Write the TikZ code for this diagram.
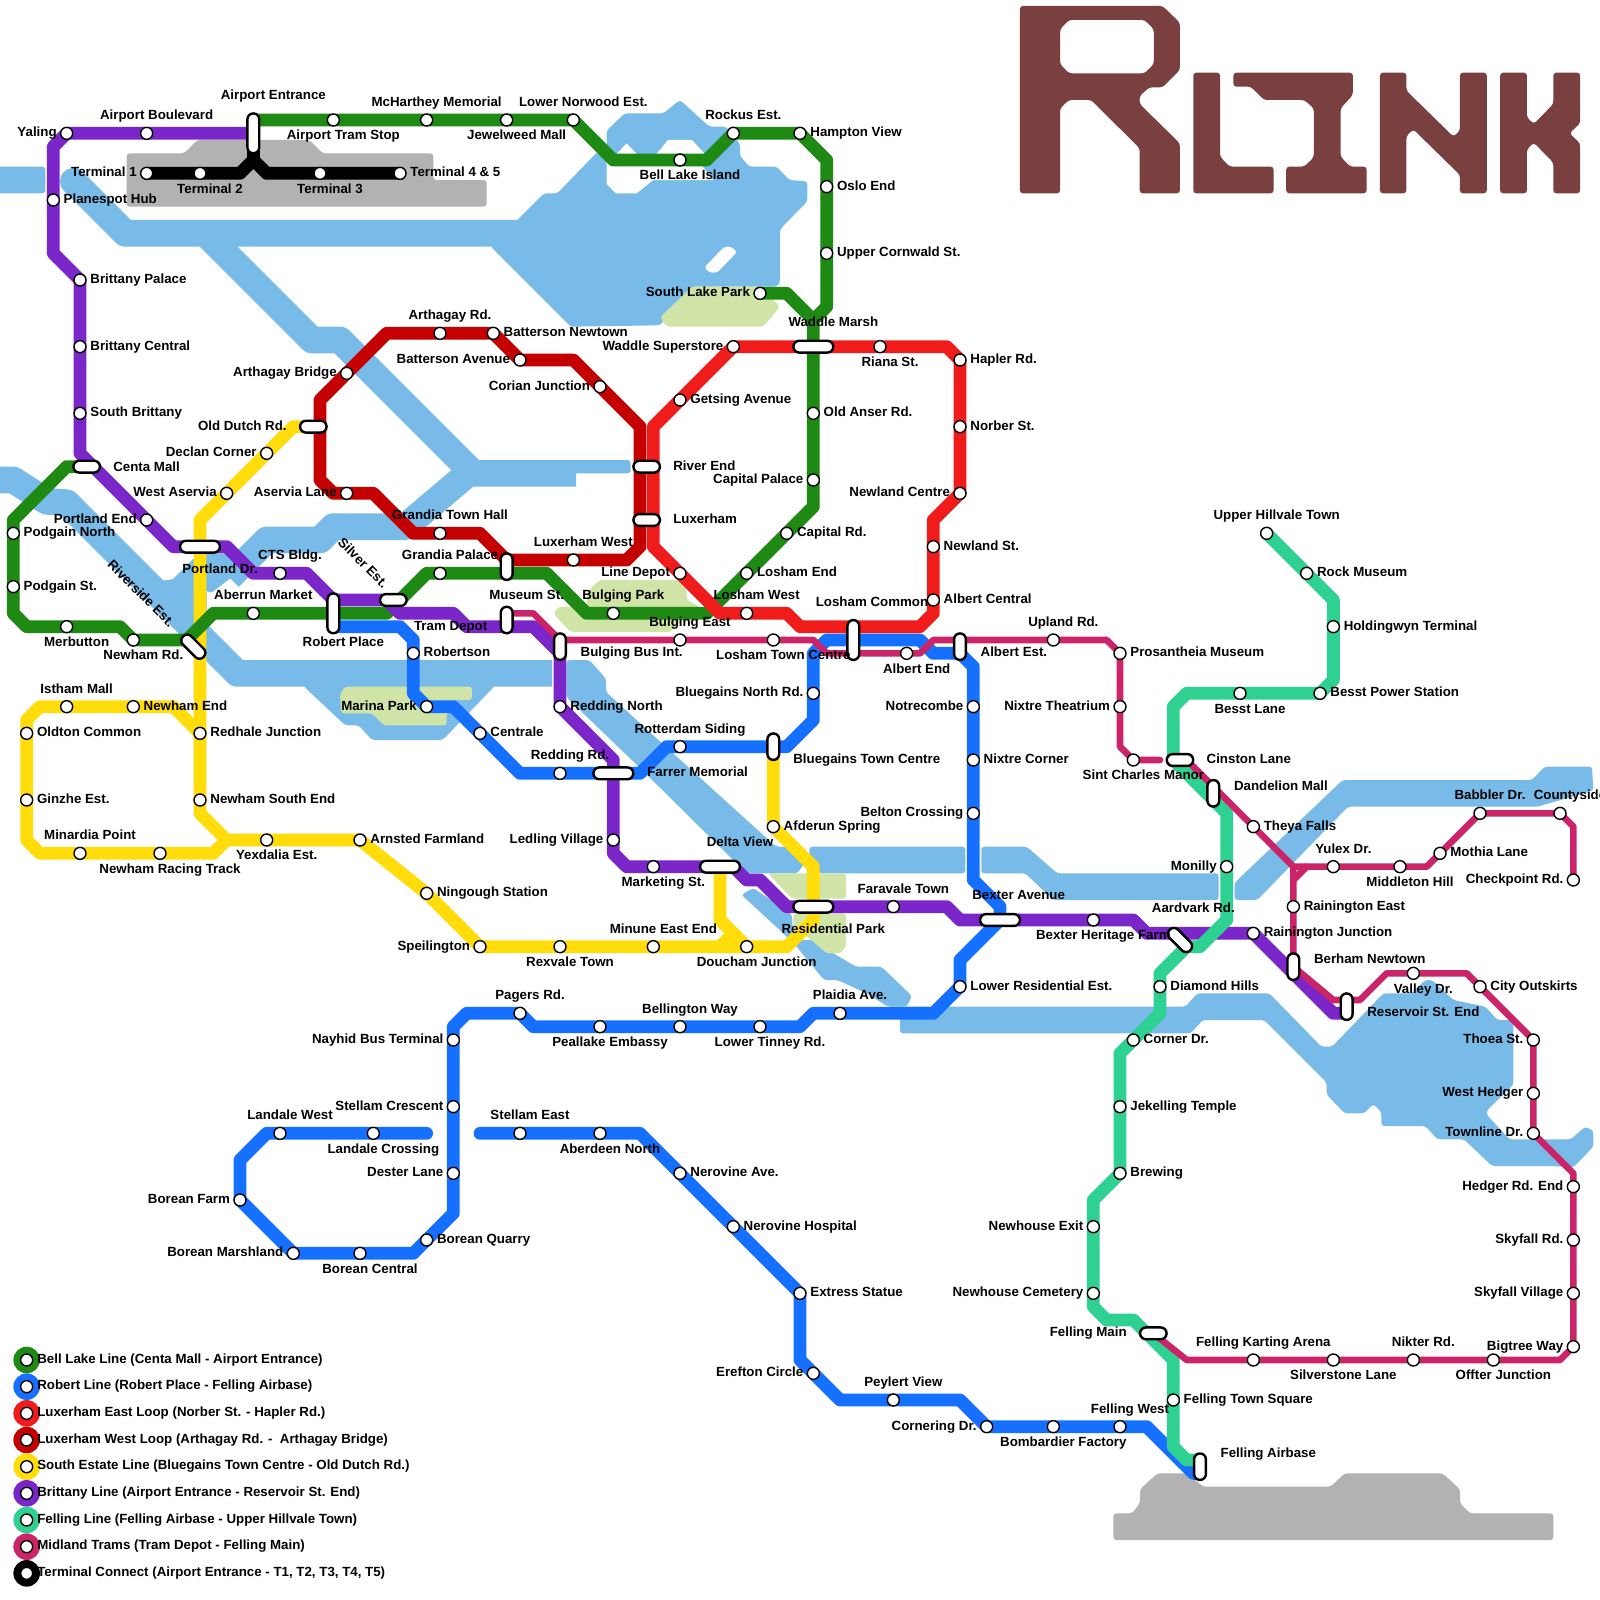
\documentclass[tikz,border=0pt]{standalone}
\usepackage{fontspec}
\setmainfont{Liberation Sans}
\definecolor{cgreen}{HTML}{1E8A14}
\definecolor{cblue}{HTML}{1570FF}
\definecolor{cred}{HTML}{F01C1C}
\definecolor{cdark}{HTML}{C40000}
\definecolor{cyel}{HTML}{FFDC0A}
\definecolor{cpur}{HTML}{7A26C8}
\definecolor{cteal}{HTML}{2ED191}
\definecolor{cmid}{HTML}{CC2468}
\definecolor{cwater}{HTML}{78BBE8}
\definecolor{cpark}{HTML}{D0E4A8}
\definecolor{cgray}{HTML}{B2B2B2}
\definecolor{clogo}{HTML}{7A4040}
\pgfdeclarelayer{lines}
\pgfdeclarelayer{land}
\pgfsetlayers{land,lines,main}
\tikzset{
  stn/.style={circle,draw=black,fill=white,line width=1.4pt,minimum size=12pt,inner sep=0pt,outer sep=0pt},
  lab/.style={font=\fontsize{13.3}{15}\selectfont\bfseries,inner sep=0pt,outer sep=0pt,text height=9.5pt,text depth=0pt,text=black},
  lr/.style={anchor=west,xshift=10.4pt,yshift=1.2pt},
  ll/.style={anchor=east,xshift=-10pt,yshift=1.2pt},
  la/.style={anchor=center,xshift=10pt,yshift=18.4pt},
  lb/.style={anchor=center,xshift=10pt,yshift=-15.2pt},
  lo/.style 2 args={anchor=center,xshift=#1*13.333pt,yshift=-#2*13.333pt},
  lw/.style 2 args={anchor=west,xshift=#1*13.333pt,yshift=-#2*13.333pt},
  lt/.style 2 args={anchor=east,xshift=#1*13.333pt,yshift=-#2*13.333pt},
  ich/.style={draw=black,fill=white,line width=2.4pt,rounded corners=5.8pt,inner sep=0pt,outer sep=0pt,minimum height=11.8pt,minimum width=#1*13.333pt-0.2pt},
  icv/.style={draw=black,fill=white,line width=2.4pt,rounded corners=5.8pt,inner sep=0pt,outer sep=0pt,minimum width=11.8pt,minimum height=#1*13.333pt-0.2pt},
  icd/.style={ich=2.2,rotate=-45},
  bl/.style={line width=12.8pt,line join=round,line cap=round},
  ml/.style={line width=6.6pt,line join=round,line cap=round,cmid},
  wl/.style={line width=26.67pt,line join=round,cwater},
  wp/.style={fill=cwater,rounded corners=3pt},
  pk/.style={fill=cpark,rounded corners=3pt},
  gr/.style={fill=cgray,rounded corners=3pt},
  lgtxt/.style={lab,anchor=west},
}
\newcommand{\stn}[5]{\node[stn] (#1) at (#2,#3) {}; \node[lab,#4] (#1-l) at (#1.center) {#5};}
\newcommand{\chg}[6]{\node[#4] (#1) at (#2,#3) {}; \node[lab,#5] (#1-l) at (#1.center) {#6};}
\begin{document}
\begin{tikzpicture}[x=13.333pt,y=-13.333pt]
\useasboundingbox (0,0) rectangle (120,120);
\begin{pgfonlayer}{land}
\fill[white] (0,0) rectangle (120,120);
% land
\fill[gr] (9.5,11.5)--(13.8,11.5)--(14.8,10.5)--(23.2,10.5)--(24.2,11.5)--(32.5,11.5)--(32.5,13.5)--(36.5,13.5)--(36.5,15.5)--(9.5,15.5)--cycle;
\fill[gr] (86.8,110.5)--(89.1,110.5)--(90.2,111.5)--(99.8,111.5)--(100.85,110.5)--(108.2,110.5)--(109.5,111.7)--(109.5,112.75)--(110.25,113.5)--(116.5,113.5)--(116.5,115.5)--(83.5,115.5)--(83.5,113.5)--(84.9,113.5)--(85.5,112.75)--(85.5,111.7)--cycle;
% water
\fill[wp] (-1,12.5)--(3.4,12.5)--(3.4,14.5)--(-1,14.5)--cycle;
\draw[wl,line cap=round] (5.5,13.6)--(9.4,17.5)--(39,17.5);
\draw[wl] (15.4,17.5)--(23.4,25.5)--(25.5,25.5)--(35.5,35.5)--(43.2,35.5);
\fill[wp] (42,34.5)--(47.3,34.5)--(47.3,35.5)--(42,35.5)--cycle;
\draw[wl] (35,35.6)--(30.4,39.5)--(25,39.5)--(24,40.5)--(20,40.5)--(17.2,43.3);
\fill[cwater,rounded corners=3pt] (15.3,41.5)--(17,41.5)--(18.2,42.6)--(17.5,43.2)--(15.8,44.5)--(15.3,44.2)--cycle;
\draw[wl] (-1,36)--(1,36)--(3.5,37.6)--(5,37.7)--(17.8,50.5)--(41.4,50.5);
\fill[wp] (12.2,43.5)--(12.9,43.5)--(14.6,41.8)--(15.5,41.8)--(15.5,47.5)--(13.8,47.4)--cycle;
\fill[wp] (22.8,51)--(22.8,51.5)--(25.9,54.4)--(26.9,54.4)--(27.9,55.5)--(33.2,55.5)--(37.1,51.45)--(37.1,51)--cycle;
\fill[wp] (42.5,49.5)--(44.2,49.5)--(45.45,50.9)--(45.45,51.9)--(49.6,55.7)--(58.2,63.5)--(59.8,63.5)--(60.5,64.5)--(59.8,65.5)--(56,65.5)--(47.9,57.5)--(42.5,52.3)--cycle;
\fill[wp] (60.7,63.5)--(72.4,63.5)--(72.4,65.5)--(61.5,65.5)--(60.7,64.5)--cycle;
\fill[wp] (73.6,63.5)--(77,63.5)--(79.3,65.5)--(91.4,65.5)--(91.4,67.5)--(79,67.5)--(76.9,65.5)--(73.6,65.5)--cycle;
\fill[wp] (92.6,66.2)--(100.7,58.5)--(114.9,58.5)--(115.85,57.5)--(119.4,57.5)--(119.5,59.3)--(115.3,60.5)--(101.1,60.5)--(94.3,67.5)--(92.6,67.5)--cycle;
\fill[wp] (55.6,67.1)--(56.5,66.6)--(59.4,68.6)--(59.5,70.5)--(61,70.5)--(62.5,71.5)--(64.2,72.5)--(66.1,72.5)--(68.4,74.7)--(68,75.5)--(66.6,75.5)--(65,74.5)--(62.8,73.5)--(61.8,73.5)--(59.5,70.7)--cycle;
\fill[wp] (67.5,75.5)--(87.7,75.5)--(88.9,75.5)--(89.8,74.5)--(95.2,74.5)--(99.1,78.5)--(99.9,78.5)--(103.75,74.5)--(105.85,74.5)--(106.9,73.5)--(107.4,73.5)--(109,75)--(111.4,75.5)--(112.3,76.5)--(113.5,76.5)--(113.5,81.35)--(111.5,83.3)--(111.5,83.6)--(113.2,85.45)--(115.6,85.45)--(117.8,85.45)--(118.9,84.5)--(119.5,84.8)--(119.5,86)--(118,87.55)--(116.25,87.45)--(111.9,87.45)--(109.8,85.45)--(107.8,85.45)--(106.9,84.45)--(103.6,84.45)--(103.6,83.4)--(103,82.8)--(102.3,83.5)--(100.85,83.5)--(99.5,82.1)--(99.5,81.2)--(94.8,76.5)--(90.2,76.5)--(89.3,77.5)--(67.5,77.5)--cycle;
\fill[cwater,even odd rule,rounded corners=3pt] (36.8,18.5)--(38.8,16.5)--(40.8,14.5)--(41.8,14.5)--(44.7,11.5)--(45.5,11)--(45.5,9.8)--(46.85,8.5)--(49.75,8.5)--(51,7.5)--(53.2,9.5)--(54.45,9.5)--(55.5,10.8)--(55.5,11.7)--(56.2,12.5)--(58.25,12.5)--(59.2,13.5)--(60.55,13.6)--(60.55,15.1)--(58.5,17.2)--(58.5,21.2)--(58.25,21.5)--(51.9,21.5)--(49.5,24.4)--(42.8,24.5)--cycle
 (52.8,20.07)--(54.3,18.5)--(54.85,18.5)--(55.3,18.9)--(53.8,20.45)--(53.2,20.45)--cycle;
\fill[white] (45.5,12)--(45.5,13.8)--(46.2,14.5)--(47.75,14.5)--(49,13.5)--(53.5,13.5)--(52.3,12)--cycle;
\fill[white] (46.1,11.7)--(47,10.75)--(47.9,11.7)--cycle;
\fill[white] (49.1,11.7)--(50.1,10.5)--(51.9,10.5)--(53,11.7)--cycle;
% parks
\fill[pk] (51.9,21.5)--(57,21.5)--(58.5,23)--(57.25,24.5)--(50,24.5)--(49.5,23.8)--cycle;
\fill[pk] (44.95,43.5)--(50.9,43.5)--(51.5,44)--(51.5,45)--(52.5,45.5)--(51.2,46.5)--(50.25,47.4)--(42.8,47.4)--(41.5,46)--(41.9,45.5)--(44,45.5)--(44.05,44.4)--cycle;
\fill[pk] (25.9,51.5)--(35.4,51.5)--(35.4,52.5)--(33.9,52.5)--(33.5,53.6)--(33.5,54.4)--(28.8,54.4)--(27.9,53.5)--(25.6,53.5)--(25.5,52)--cycle;
\fill[pk] (57.6,65.5)--(63.45,65.5)--(63.45,67.4)--(59.4,67.4)--cycle;
\fill[pk] (59.5,68.5)--(63.45,68.5)--(63.45,71)--(63,71.5)--(62,71.5)--(60.5,70.2)--(59.5,69.5)--cycle;
% logo
\begin{scope}[shift={(75,0)},x=0.38265pt,y=-0.3333pt]
\fill[clogo,even odd rule,rounded corners=3pt] (52,18)--(425,18)--(470,68)--(470,210)--(425,262)--(390,262)--(365,288)--(365,312)--(470,430)--(470,580)--(365,580)--(365,445)--(238,300)--(180,300)--(157,325)--(157,580)--(52,580)--cycle
 (180,60)--(378,60)--(402,88)--(402,192)--(378,220)--(180,220)--(157,192)--(157,88)--cycle;
\fill[clogo,rounded corners=3pt] (505,218)--(575,218)--(575,470)--(600,500)--(715,500)--(715,580)--(505,580)--cycle;
\fill[clogo,rounded corners=3pt] (610,218)--(922,218)--(922,285)--(890,325)--(890,470)--(915,500)--(958,500)--(958,580)--(748,580)--(748,500)--(795,500)--(820,472)--(820,325)--(795,300)--(690,300)--(655,260)--(610,260)--cycle;
\fill[clogo,rounded corners=3pt] (993,218)--(1062,218)--(1062,272)--(1185,410)--(1202,392)--(1202,218)--(1272,218)--(1272,580)--(1202,580)--(1202,525)--(1080,388)--(1062,408)--(1062,580)--(993,580)--cycle;
\fill[clogo,rounded corners=3pt] (1307,218)--(1377,218)--(1377,352)--(1395,372)--(1446,312)--(1446,218)--(1516,218)--(1516,370)--(1488,400)--(1516,430)--(1516,580)--(1446,580)--(1446,488)--(1395,428)--(1377,448)--(1377,580)--(1307,580)--cycle;
\end{scope}
\end{pgfonlayer}
% interchanges
\chg{aent}{19}{10}{icv=3}{lo={1.5}{-2.86}}{Airport Entrance}
\chg{centa}{6.5}{35}{ich=2}{lw={2}{0}}{Centa Mall}
\chg{portd}{15}{41}{ich=3}{lo={1.5}{1.65}}{Portland Dr.}
\chg{rivr}{14.5}{48.5}{icd}{anchor=center,xshift=-3.9*13.333pt,yshift=4*13.333pt,rotate=-45}{Riverside Est.}
\chg{oldd}{23.5}{32}{ich=2}{lt={-2}{-.05}}{Old Dutch Rd.}
\chg{robp}{25}{46}{icv=3}{lo={.75}{2.15}}{Robert Place}
\chg{silv}{29.5}{45}{ich=2}{anchor=center,xshift=-2.25*13.333pt,yshift=2.8*13.333pt,rotate=-45}{Silver Est.}
\chg{musm}{38}{42.5}{icv=2}{lo={1.5}{2.1}}{Museum St.}
\chg{trdp}{38}{46.5}{icv=2}{lo={-4.2}{.45}}{Tram Depot}
\chg{bulb}{42}{48.5}{icv=2}{lw={1.55}{.37}}{Bulging Bus Int.}
\chg{farr}{46}{58}{ich=3}{lw={2.55}{-.13}}{Farrer Memorial}
\chg{bgtc}{58}{56}{icv=2}{lw={1.5}{.9}}{Bluegains Town Centre}
\chg{delv}{54}{65}{ich=3}{lo={1.5}{-1.86}}{Delta View}
\chg{resp}{61}{68}{ich=3}{lo={1.5}{1.66}}{Residential Park}
\chg{bexa}{75}{69}{ich=3}{lo={1.4}{-1.9}}{Bexter Avenue}
\chg{loco}{64}{48}{icv=3}{lo={1.4}{-2.9}}{Losham Common}
\chg{albe}{72}{48.5}{icv=2}{lw={1.55}{.37}}{Albert Est.}
\chg{cins}{88.5}{57}{ich=2}{lw={2}{-.1}}{Cinston Lane}
\chg{dand}{91}{59.5}{icv=2}{lw={1.55}{-.6}}{Dandelion Mall}
\chg{aard}{88.5}{70.5}{icd}{lo={1}{-2.4}}{Aardvark Rd.}
\chg{berh}{97}{72.5}{icv=2}{lw={1.55}{-.6}}{Berham Newtown}
\chg{rese}{101}{75.5}{icv=2}{lw={1.55}{.4}}{Reservoir St. End}
\chg{felm}{86.5}{100}{ich=2}{lt={-2}{-.1}}{Felling Main}
\chg{fela}{90}{110}{icv=2}{lw={1.55}{-1.07}}{Felling Airbase}
\chg{wadm}{61}{26}{ich=3}{lo={1.5}{-1.87}}{Waddle Marsh}
\chg{rive}{48.5}{35}{ich=2}{lw={2}{-.1}}{River End}
\chg{luxe}{48.5}{39}{ich=2}{lw={2}{-.1}}{Luxerham}
% Bell Lake
\stn{podgn}{1}{40}{lr}{Podgain North}
\stn{podgs}{1}{44}{lr}{Podgain St.}
\stn{merb}{5}{47}{lb}{Merbutton}
\stn{newr}{10}{48}{lb}{Newham Rd.}
\stn{aber}{19}{46}{la}{Aberrun Market}
\stn{gpal}{33}{43}{la}{Grandia Palace}
\stn{bulp}{46}{46}{la}{Bulging Park}
\stn{lose}{56}{43}{lr}{Losham End}
\stn{capr}{59}{40}{lr}{Capital Rd.}
\stn{capp}{61}{36}{ll}{Capital Palace}
\stn{olda}{61}{31}{lr}{Old Anser Rd.}
\stn{oslo}{62}{14}{lr}{Oslo End}
\stn{upco}{62}{19}{lr}{Upper Cornwald St.}
\stn{slpk}{57}{22}{ll}{South Lake Park}
\stn{hamp}{60}{10}{lr}{Hampton View}
\stn{rock}{55}{10}{la}{Rockus Est.}
\stn{bell}{51}{12}{lb}{Bell Lake Island}
\stn{lown}{43}{9}{la}{Lower Norwood Est.}
\stn{jewl}{38}{9}{lb}{Jewelweed Mall}
\stn{mcha}{32}{9}{la}{McHarthey Memorial}
\stn{tram}{25}{9}{lb}{Airport Tram Stop}
% Brittany
\stn{ablv}{11}{10}{la}{Airport Boulevard}
\stn{yali}{5}{10}{ll}{Yaling}
\stn{plan}{4}{15}{lr}{Planespot Hub}
\stn{bpal}{6}{21}{lr}{Brittany Palace}
\stn{bcen}{6}{26}{lr}{Brittany Central}
\stn{bsou}{6}{31}{lr}{South Brittany}
\stn{pend}{11}{39}{ll}{Portland End}
\stn{ctsb}{21}{43}{la}{CTS Bldg.}
\stn{redn}{42}{53}{lr}{Redding North}
\stn{ledl}{46}{63}{ll}{Ledling Village}
\stn{mark}{49}{65}{lb}{Marketing St.}
\stn{fara}{67}{68}{la}{Faravale Town}
\stn{bexh}{82}{69}{lb}{Bexter Heritage Farm}
\stn{rajn}{94}{70}{lr}{Rainington Junction}
% Robert
\stn{robn}{31}{49}{lr}{Robertson}
\stn{mari}{32}{53}{ll}{Marina Park}
\stn{cent}{36}{55}{lr}{Centrale}
\stn{redr}{42}{58}{la}{Redding Rd.}
\stn{rott}{51}{56}{la}{Rotterdam Siding}
\stn{bgno}{61}{52}{ll}{Bluegains North Rd.}
\stn{notr}{73}{53}{ll}{Notrecombe}
\stn{nixc}{73}{57}{lr}{Nixtre Corner}
\stn{belt}{73}{61}{ll}{Belton Crossing}
\stn{lowr}{72}{74}{lr}{Lower Residential Est.}
\stn{plai}{63}{76}{la}{Plaidia Ave.}
\stn{lowt}{57}{77}{lb}{Lower Tinney Rd.}
\stn{blgw}{51}{77}{la}{Bellington Way}
\stn{peal}{45}{77}{lb}{Peallake Embassy}
\stn{page}{39}{76}{la}{Pagers Rd.}
\stn{nayh}{34}{78}{ll}{Nayhid Bus Terminal}
\stn{stcr}{34}{83}{ll}{Stellam Crescent}
\stn{dest}{34}{88}{ll}{Dester Lane}
\stn{bqua}{32}{93}{lr}{Borean Quarry}
\stn{bcnt}{27}{94}{lb}{Borean Central}
\stn{bmar}{22}{94}{ll}{Borean Marshland}
\stn{bfar}{18}{90}{ll}{Borean Farm}
\stn{lanw}{21}{85}{la}{Landale West}
\stn{lanc}{28}{85}{lb}{Landale Crossing}
\stn{stea}{39}{85}{la}{Stellam East}
\stn{abno}{45}{85}{lb}{Aberdeen North}
\stn{nera}{51}{88}{lr}{Nerovine Ave.}
\stn{nerh}{55}{92}{lr}{Nerovine Hospital}
\stn{extr}{60}{97}{lr}{Extress Statue}
\stn{eref}{61}{103}{ll}{Erefton Circle}
\stn{peyl}{67}{105}{la}{Peylert View}
\stn{corn}{74}{107}{ll}{Cornering Dr.}
\stn{bomb}{79}{107}{lb}{Bombardier Factory}
\stn{felw}{84}{107}{la}{Felling West}
% East loop
\stn{hapl}{72}{27}{lr}{Hapler Rd.}
\stn{norb}{72}{32}{lr}{Norber St.}
\stn{newc}{72}{37}{ll}{Newland Centre}
\stn{news}{70}{41}{lr}{Newland St.}
\stn{albc}{70}{45}{lr}{Albert Central}
\stn{rian}{66}{26}{lb}{Riana St.}
\stn{wsup}{55}{26}{ll}{Waddle Superstore}
\stn{gets}{51}{30}{lr}{Getsing Avenue}
\stn{lind}{51}{43}{ll}{Line Depot}
\stn{losw}{56}{46}{la}{Losham West}
% West loop
\stn{artr}{33}{25}{la}{Arthagay Rd.}
\stn{batn}{37}{25}{lr}{Batterson Newtown}
\stn{bata}{39}{27}{ll}{Batterson Avenue}
\stn{cori}{45}{29}{ll}{Corian Junction}
\stn{luxw}{43}{42}{la}{Luxerham West}
\stn{gtow}{33}{40}{la}{Grandia Town Hall}
\stn{asel}{26}{37}{ll}{Aservia Lane}
\stn{artb}{26}{28}{ll}{Arthagay Bridge}
% South Estate
\stn{decl}{20}{34}{ll}{Declan Corner}
\stn{wase}{17}{37}{ll}{West Aservia}
\stn{newe}{10}{53}{lr}{Newham End}
\stn{isth}{5}{53}{la}{Istham Mall}
\stn{oldt}{2}{55}{lr}{Oldton Common}
\stn{ginz}{2}{60}{lr}{Ginzhe Est.}
\stn{redh}{15}{55}{lr}{Redhale Junction}
\stn{nsou}{15}{60}{lr}{Newham South End}
\stn{mina}{6}{64}{la}{Minardia Point}
\stn{nrac}{12}{64}{lb}{Newham Racing Track}
\stn{yexd}{20}{63}{lb}{Yexdalia Est.}
\stn{arns}{27}{63}{lr}{Arnsted Farmland}
\stn{ning}{32}{67}{lr}{Ningough Station}
\stn{spei}{36}{71}{ll}{Speilington}
\stn{rexv}{42}{71}{lb}{Rexvale Town}
\stn{minu}{49}{71}{la}{Minune East End}
\stn{douc}{56}{71}{lb}{Doucham Junction}
\stn{afde}{58}{62}{lr}{Afderun Spring}
% Felling
\stn{ftsq}{88}{105}{lr}{Felling Town Square}
\stn{ncem}{82}{97}{ll}{Newhouse Cemetery}
\stn{nexi}{82}{92}{ll}{Newhouse Exit}
\stn{brew}{84}{88}{lr}{Brewing}
\stn{jeke}{84}{83}{lr}{Jekelling Temple}
\stn{cdnr}{85}{78}{lr}{Corner Dr.}
\stn{diam}{87}{74}{lr}{Diamond Hills}
\stn{moni}{92}{65}{ll}{Monilly}
\stn{hold}{100}{47}{lr}{Holdingwyn Terminal}
\stn{rmus}{98}{43}{lr}{Rock Museum}
\stn{uphv}{95}{40}{la}{Upper Hillvale Town}
\stn{bpow}{99}{52}{lr}{Besst Power Station}
\stn{bess}{93}{52}{lb}{Besst Lane}
% Midland
\stn{ltc}{58}{48}{lb}{Losham Town Centre}
\stn{bule}{51}{48}{la}{Bulging East}
\stn{aend}{68}{49}{lb}{Albert End}
\stn{upla}{79}{48}{la}{Upland Rd.}
\stn{pros}{84}{49}{lr}{Prosantheia Museum}
\stn{nixt}{84}{53}{ll}{Nixtre Theatrium}
\stn{sint}{85}{57}{lb}{Sint Charles Manor}
\stn{thef}{94}{62}{lr}{Theya Falls}
\stn{yule}{100}{65}{la}{Yulex Dr.}
\stn{midh}{105}{65}{lb}{Middleton Hill}
\stn{moth}{108}{64}{lr}{Mothia Lane}
\stn{babb}{111}{61}{la}{Babbler Dr.}
\stn{coun}{117}{61}{la}{Countyside}
\stn{chek}{118}{66}{ll}{Checkpoint Rd.}
\stn{rane}{97}{68}{lr}{Rainington East}
\stn{vall}{106}{73}{lb}{Valley Dr.}
\stn{city}{111}{74}{lr}{City Outskirts}
\stn{thoe}{115}{78}{ll}{Thoea St.}
\stn{wheg}{115}{82}{ll}{West Hedger}
\stn{town}{115}{85}{ll}{Townline Dr.}
\stn{hedg}{118}{89}{ll}{Hedger Rd. End}
\stn{skyr}{118}{93}{ll}{Skyfall Rd.}
\stn{skyv}{118}{97}{ll}{Skyfall Village}
\stn{bigt}{118}{101}{ll}{Bigtree Way}
\stn{offt}{112}{102}{lb}{Offter Junction}
\stn{nikt}{106}{102}{la}{Nikter Rd.}
\stn{silr}{100}{102}{lb}{Silverstone Lane}
\stn{kart}{94}{102}{la}{Felling Karting Arena}
% Terminal
\stn{ter1}{11}{13}{ll}{Terminal 1}
\stn{ter2}{15}{13}{lb}{Terminal 2}
\stn{ter3}{24}{13}{lb}{Terminal 3}
\stn{ter4}{30}{13}{lr}{Terminal 4 \& 5}
% lines
\begin{pgfonlayer}{lines}
% South Estate
\draw[bl,cyel] (oldd.center)--(22,32)--(decl.center)--(wase.center)--(15,39)--(portd.center)--(redh.center)--(nsou.center)--(15,61)--(17,63)--(yexd.center)--(arns.center)--(ning.center)--(spei.center)--(rexv.center)--(minu.center)--(douc.center)--(59,71)--(61,69)--(resp.center)--(61,65)--(afde.center)--(bgtc.center);
\draw[bl,cyel] (redh.center)--(13,53)--(newe.center)--(isth.center)--(3,53)--(2,54)--(oldt.center)--(ginz.center)--(2,63)--(3,64)--(mina.center)--(nrac.center)--(16,64)--(17,63);
\draw[bl,cyel] (delv.center)--(54,69)--(douc.center);
\draw[bl,cyel] (54,71)--(55,70);
% Bell Lake
\draw[bl,cgreen] (centa.center)--(5,35)--(1,39)--(podgn.center)--(podgs.center)--(1,46)--(2,47)--(merb.center)--(9,47)--(newr.center)--(14,48)--(16,46)--(aber.center)--(robp.center)--(29,46)--(32,43)--(gpal.center)--(41,43)--(44,46)--(bulp.center)--(53,46)--(lose.center)--(capr.center)--(61,38)--(capp.center)--(olda.center)--(wadm.center)--(61,24)--(62,23)--(upco.center)--(oslo.center)--(62,12)--(hamp.center)--(rock.center)--(53,12)--(bell.center)--(46,12)--(lown.center)--(jewl.center)--(mcha.center)--(tram.center)--(19,9);
\draw[bl,cgreen] (slpk.center)--(59,22)--(61,24);
% Robert
\draw[bl,cblue] (25,47)--(30,47)--(31,48)--(robn.center)--(31,52)--(mari.center)--(34,53)--(cent.center)--(39,58)--(redr.center)--(farr.center)--(48,58)--(50,56)--(rott.center)--(bgtc.center)--(59,56)--(61,54)--(bgno.center)--(61,49)--(62,48)--(loco.center)--(69,48)--(70,49)--(72,49)--(73,50)--(notr.center)--(nixc.center)--(belt.center)--(73,66)--(75,68)--(bexa.center)--(72,72)--(lowr.center)--(70,76)--(plai.center)--(61,76)--(60,77)--(lowt.center)--(blgw.center)--(peal.center)--(40,77)--(page.center)--(35,76)--(34,77)--(nayh.center)--(stcr.center)--(dest.center)--(34,91)--(bqua.center)--(31,94)--(bcnt.center)--(bmar.center)--(bfar.center)--(18,87)--(20,85)--(lanw.center)--(lanc.center)--(32,85);
\draw[bl,cblue] (36,85)--(stea.center)--(abno.center)--(48,85)--(nera.center)--(nerh.center)--(extr.center)--(60,102)--(eref.center)--(63,105)--(peyl.center)--(72,105)--(corn.center)--(bomb.center)--(felw.center)--(86,107)--(89.5,110.5)--(90,110.5);
% East loop
\draw[bl,cred] (norb.center)--(hapl.center)--(71,26)--(rian.center)--(wadm.center)--(wsup.center)--(gets.center)--(49,32)--(49,41)--(lind.center)--(54,46)--(losw.center)--(59,46)--(60,47)--(69,47)--(70,46)--(albc.center)--(news.center)--(70,39)--(newc.center)--(norb.center);
% West loop
\draw[bl,cdark] (artr.center)--(batn.center)--(bata.center)--(43,27)--(cori.center)--(48,32)--(48,41)--(47,42)--(luxw.center)--(38,42)--(36,40)--(gtow.center)--(31,40)--(28,37)--(asel.center)--(25,37)--(24,36)--(24,30)--(artb.center)--(29,25)--(artr.center);
% Brittany
\draw[bl,cpur] (19,10)--(ablv.center)--(yali.center)--(4,11)--(plan.center)--(4,19)--(bpal.center)--(bcen.center)--(bsou.center)--(6,34)--(7,35)--(pend.center)--(13,41)--(portd.center)--(17,41)--(19,43)--(ctsb.center)--(23,43)--(25,45)--(29,45)--(30,46)--(34,46)--(35,47)--(40,47)--(42,49)--(redn.center)--(46,57)--(farr.center)--(ledl.center)--(46,64)--(47,65)--(mark.center)--(delv.center)--(55,65)--(56,66)--(57,66)--(59,68)--(resp.center)--(fara.center)--(71,68)--(72,69)--(bexa.center)--(bexh.center)--(85,69)--(86,70)--(rajn.center)--(100,76)--(101,76);
% Felling
\draw[bl,cteal] (90,109.5)--(89,109.5)--(88,108.5)--(ftsq.center)--(88,102)--(85,99)--(83,99)--(82,98)--(ncem.center)--(nexi.center)--(82,90)--(brew.center)--(jeke.center)--(84,79)--(cdnr.center)--(87,76)--(diam.center)--(87,73)--(89,71)--(90,71)--(92,69)--(moni.center)--(92,61)--(88,57)--(88,53)--(89,52)--(bess.center)--(bpow.center)--(100,51)--(hold.center)--(100,45)--(rmus.center)--(uphv.center);
% Midland
\draw[ml] (38,46)--(40,46)--(42,48)--(bule.center)--(ltc.center)--(61,48)--(62,49)--(aend.center)--(69,49)--(70,48)--(upla.center)--(83,48)--(pros.center)--(nixt.center)--(84,56)--(sint.center)--(87,57);
\draw[ml] (88.5,57)--(89,57)--(thef.center)--(97,65)--(yule.center)--(midh.center)--(107,65)--(moth.center)--(babb.center)--(coun.center)--(118,62)--(chek.center);
\draw[ml] (97,65)--(rane.center)--(berh.center)--(100,75)--(102,75)--(104,73)--(vall.center)--(110,73)--(city.center)--(thoe.center)--(wheg.center)--(town.center)--(118,88)--(hedg.center)--(skyr.center)--(skyv.center)--(bigt.center)--(117,102)--(offt.center)--(nikt.center)--(silr.center)--(kart.center)--(89,102)--(felm.center);
\draw[ml] (97,66)--(98,65);
% Terminal
\draw[bl,black] (ter1.center)--(ter2.center)--(18,13)--(19,12)--(20,13)--(ter3.center)--(ter4.center);
\draw[bl,black] (19,11)--(19,12);
\end{pgfonlayer}
% legend
\foreach \i/\c/\t in {0/cgreen/Bell Lake Line (Centa Mall - Airport Entrance),1/cblue/Robert Line (Robert Place - Felling Airbase),2/cred/Luxerham East Loop (Norber St. - Hapler Rd.),3/cdark/Luxerham West Loop (Arthagay Rd. - \ Arthagay Bridge),4/cyel/South Estate Line (Bluegains Town Centre - Old Dutch Rd.),5/cpur/Brittany Line (Airport Entrance - Reservoir St. End),6/cteal/Felling Line (Felling Airbase - Upper Hillvale Town),7/cmid/Midland Trams (Tram Depot - Felling Main),8/black/Terminal Connect (Airport Entrance - T1{,} T2{,} T3{,} T4{,} T5)}{
  \node[circle,fill=\c,minimum size=26.6pt,inner sep=0pt] (lgo\i) at (2,102+2*\i) {};
  \node[stn] (lgi\i) at (lgo\i.center) {};
  \node[lgtxt] (lgt\i) at (2.8,101.88+2*\i) {\t};
}
\end{tikzpicture}
\end{document}
